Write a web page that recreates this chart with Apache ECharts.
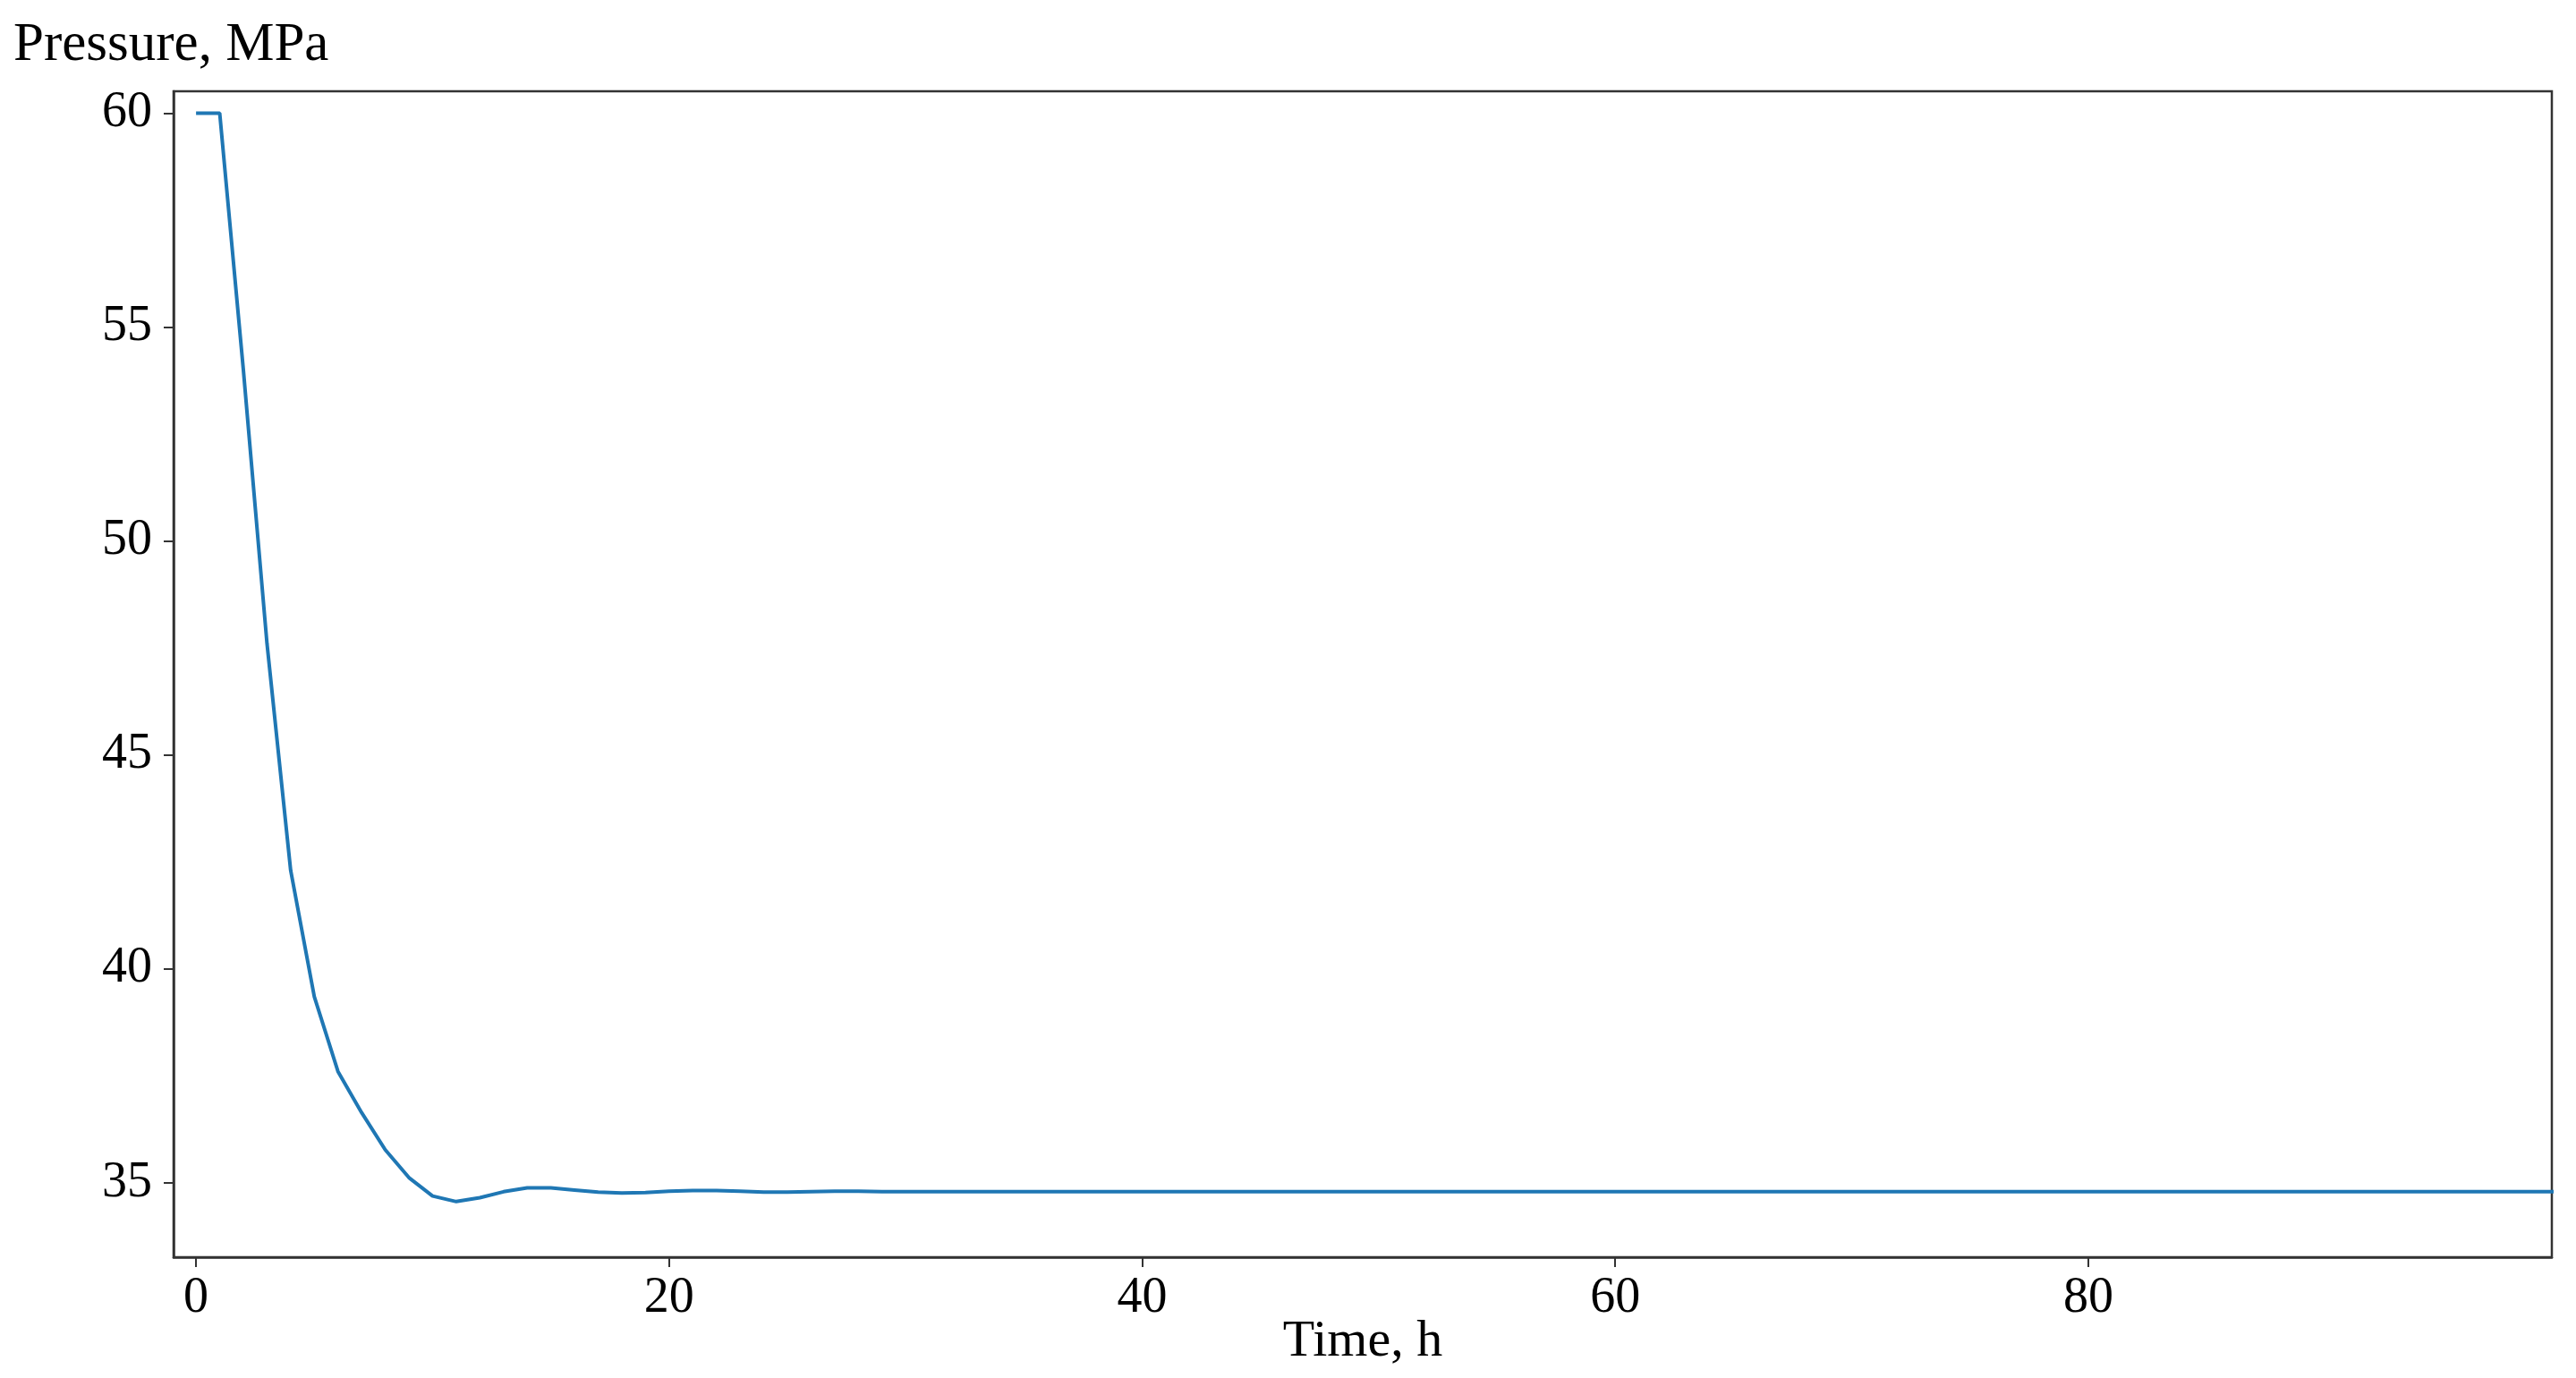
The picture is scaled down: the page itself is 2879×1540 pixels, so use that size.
<!DOCTYPE html>
<html>
<head>
<meta charset="utf-8">
<script src="https://cdn.jsdelivr.net/npm/echarts@6/dist/echarts.min.js"></script>
<style>
html,body{margin:0;padding:0;background:#fff;}
#chart{width:2879px;height:1540px;}
</style>
</head>
<body>
<div id="chart"></div>
<script>
// ---- data ----
var timeHours = [0,1,2,3,4,5,6,7,8,9,10,11,12,13,14,15,16,17,18,19,20,21,22,23,24,25,26,27,28,29,30,31,32,33,34,35,36,37,38,39,40,41,42,43,44,45,46,47,48,49,50,51,52,53,54,55,56,57,58,59,60,61,62,63,64,65,66,67,68,69,70,71,72,73,74,75,76,77,78,79,80,81,82,83,84,85,86,87,88,89,90,91,92,93,94,95,96,97,98,99,100];
var pressureMPa = [60,60,54.0,47.6,42.3,39.35,37.6,36.64,35.77,35.12,34.69,34.56,34.65,34.79,34.88,34.88,34.83,34.78,34.76,34.77,34.80,34.82,34.82,34.80,34.78,34.78,34.79,34.80,34.80,34.79,
34.79,34.79,34.79,34.79,34.79,34.79,34.79,34.79,34.79,34.79,34.79,34.79,34.79,34.79,34.79,34.79,34.79,34.79,34.79,34.79,
34.79,34.79,34.79,34.79,34.79,34.79,34.79,34.79,34.79,34.79,34.79,34.79,34.79,34.79,34.79,34.79,34.79,34.79,34.79,34.79,
34.79,34.79,34.79,34.79,34.79,34.79,34.79,34.79,34.79,34.79,34.79,34.79,34.79,34.79,34.79,34.79,34.79,34.79,34.79,34.79,
34.79,34.79,34.79,34.79,34.79,34.79,34.79,34.79,34.79,34.79,34.79];
var xTicks = [0,20,40,60,80];
var yTicks = [35,40,45,50,55,60];
var xLabel = 'Time, h';
var yLabel = 'Pressure, MPa';

var seriesData = timeHours.map(function(t,i){ return [t, pressureMPa[i]]; });
var FONT = '"Liberation Serif", "Times New Roman", serif';

var chart = echarts.init(document.getElementById('chart'), null, {renderer:'canvas'});
chart.setOption({
  animation:false,
  backgroundColor:'#ffffff',
  grid:{left:194, right:27, top:102, bottom:135, containLabel:false, outerBoundsMode:'none',
        show:true, borderColor:'#333', borderWidth:2.5, backgroundColor:'transparent'},
  xAxis:{
    type:'value', min:-0.95, max:99.6,
    name:xLabel, nameLocation:'middle', nameGap:66, nameMoveOverlap:false,
    nameTextStyle:{fontFamily:FONT, fontSize:58, color:'#000'},
    axisLine:{show:true, onZero:false, lineStyle:{color:'#333', width:2.5}},
    axisTick:{show:true, inside:false, length:11, lineStyle:{color:'#333', width:2}, customValues:xTicks},
    axisLabel:{show:true, margin:18, fontFamily:FONT, fontSize:56, color:'#000', customValues:xTicks},
    splitLine:{show:false}
  },
  yAxis:{
    type:'value', min:33.26, max:60.51,
    axisLine:{show:true, onZero:false, lineStyle:{color:'#333', width:2.5}},
    axisTick:{show:true, inside:false, length:11, lineStyle:{color:'#333', width:2}, customValues:yTicks},
    axisLabel:{show:true, margin:24, fontFamily:FONT, fontSize:56, color:'#000', customValues:yTicks},
    splitLine:{show:false}
  },
  graphic:[{
    type:'text', left:15, top:20,
    style:{text:yLabel, font:'61px "Liberation Serif", serif', fill:'#000'}
  }],
  series:[{
    type:'line', data:seriesData, showSymbol:false, clip:true,
    lineStyle:{color:'#1f77b4', width:4}, itemStyle:{color:'#1f77b4'}
  }]
});
</script>
</body>
</html>
